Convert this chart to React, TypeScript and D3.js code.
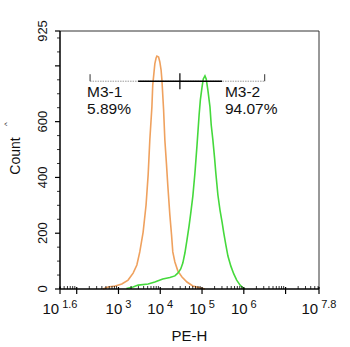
import React from "react";
import * as d3 from "d3";

// histogram data: [log10(PE-H), count]
const orangeLogX = [2.63, 2.75, 2.92, 3.08, 3.23, 3.35, 3.44, 3.51, 3.59, 3.66, 3.71, 3.75, 3.80, 3.82, 3.87, 3.90, 3.92, 3.96, 3.99, 4.02, 4.04, 4.08, 4.11, 4.15, 4.18, 4.23, 4.27, 4.30, 4.35, 4.42, 4.52, 4.64, 4.78, 4.95, 5.07];
const orangeCount = [0, 7, 11, 18, 32, 57, 86, 133, 204, 301, 409, 534, 653, 731, 807, 828, 835, 832, 814, 785, 749, 642, 534, 445, 373, 265, 194, 133, 97, 65, 43, 25, 11, 4, 0];

const greenLogX = [3.19, 3.35, 3.47, 3.71, 3.87, 4.06, 4.23, 4.35, 4.42, 4.49, 4.54, 4.59, 4.64, 4.69, 4.73, 4.78, 4.83, 4.88, 4.93, 4.96, 5.00, 5.03, 5.07, 5.10, 5.14, 5.19, 5.22, 5.26, 5.30, 5.33, 5.38, 5.43, 5.48, 5.52, 5.57, 5.62, 5.69, 5.76, 5.83, 5.91, 5.98, 6.03];
const greenCount = [2, 7, 14, 18, 25, 36, 41, 47, 57, 72, 93, 129, 176, 226, 272, 333, 416, 516, 624, 678, 724, 753, 764, 753, 713, 653, 588, 534, 470, 416, 337, 283, 240, 201, 158, 118, 82, 54, 32, 14, 4, 0];

const xLabelExps = ["1.6", "3", "4", "5", "6", "7.8"];
const xMajorExps = [1.6, 2, 3, 4, 5, 6, 7, 7.8];
const yLabels = [0, 200, 400, 600, 925];
const yMajor = [0, 200, 400, 600, 800, 925];

// markers (log10 positions)
const markerBounds = [2.32, 4.47, 6.5]; // M3-1 left, divider, M3-2 right
const markerSolid = [3.47, 5.48];
const markerCount = 745;
const markerNames = ["M3-1", "M3-2"];
const markerPct = ["5.89%", "94.07%"];

const W = 350, H = 347;
const L = 60, R = 319, T = 31, B = 289;
const font = "'Liberation Sans', Arial, Helvetica, sans-serif";

export default function App() {
  const x = d3.scaleLinear().domain([1.6, 7.8]).range([L, R]);
  const y = d3.scaleLinear().domain([0, 925]).range([B, T]);
  const line = d3.line<[number, number]>().x(d => x(d[0])).y(d => y(d[1]));
  const orange = orangeLogX.map((v, i) => [v, orangeCount[i]] as [number, number]);
  const green = greenLogX.map((v, i) => [v, greenCount[i]] as [number, number]);

  const minor: number[] = [];
  for (let e = 1; e <= 7; e++) {
    for (let k = 2; k <= 9; k++) {
      const v = e + Math.log10(k);
      if (v > 1.6 && v < 7.8) minor.push(v);
    }
  }
  const yMinor = d3.range(50, 925, 50).filter(v => !yMajor.includes(v));
  const my = y(markerCount);

  return (
    <svg width={W} height={H} style={{ position: "absolute", left: 0, top: 0, background: "#fff" }} fontFamily={font}>
      <rect x={0} y={0} width={W} height={H} fill="#fff" />
      {/* frame */}
      <line x1={L} x2={R} y1={T} y2={T} stroke="#333" strokeWidth={1} />
      <line x1={R} x2={R} y1={T} y2={B} stroke="#333" strokeWidth={1} />
      {/* curves */}
      <path d={line(orange) || ""} fill="none" stroke="#EFA15E" strokeWidth={1.6} />
      <path d={line(green) || ""} fill="none" stroke="#45D93C" strokeWidth={1.6} />
      {/* axes */}
      <line x1={L} x2={L} y1={T} y2={B} stroke="#000" strokeWidth={1.5} />
      <line x1={L} x2={R} y1={B} y2={B} stroke="#000" strokeWidth={1.5} />
      {minor.map((v, i) => (
        <line key={"mx" + i} x1={x(v)} x2={x(v)} y1={B - 3} y2={B} stroke="#000" strokeWidth={0.8} />
      ))}
      {xMajorExps.map((v, i) => (
        <line key={"Mx" + i} x1={x(v)} x2={x(v)} y1={B - 2} y2={B + 5} stroke="#000" strokeWidth={1.2} />
      ))}
      {yMinor.map((v, i) => (
        <line key={"my" + i} x1={L - 3} x2={L} y1={y(v)} y2={y(v)} stroke="#000" strokeWidth={0.8} />
      ))}
      {yMajor.map((v, i) => (
        <line key={"My" + i} x1={L - 5} x2={L} y1={y(v)} y2={y(v)} stroke="#000" strokeWidth={1.2} />
      ))}
      {/* x labels */}
      {xLabelExps.map((e, i) => (
        <text key={"xl" + i} x={x(parseFloat(e))} y={314} fontSize={15} textAnchor="middle" fill="#111">
          10
          <tspan dx={3} dy={-6} fontSize={11}>{e}</tspan>
        </text>
      ))}
      {/* y labels */}
      {yLabels.map((v, i) => (
        <text key={"yl" + i} transform={`translate(47,${y(v)}) rotate(-90)`} fontSize={13} textAnchor="middle" fill="#111">
          {v}
        </text>
      ))}
      <text transform={`translate(20,156) rotate(-90)`} fontSize={14} textAnchor="middle" fill="#111">Count</text>
      <text transform={`translate(9,124) rotate(-90)`} fontSize={8} textAnchor="middle" fill="#333">^</text>
      <text x={(L + R) / 2} y={341} fontSize={15} textAnchor="middle" fill="#111">PE-H</text>
      {/* markers */}
      <line x1={x(markerBounds[0])} x2={x(markerBounds[2])} y1={my} y2={my} stroke="#999" strokeWidth={1} strokeDasharray="1.5,1" />
      <line x1={x(markerSolid[0])} x2={x(markerSolid[1])} y1={my} y2={my} stroke="#000" strokeWidth={1.5} />
      <line x1={x(markerBounds[0])} x2={x(markerBounds[0])} y1={my - 7} y2={my} stroke="#333" strokeWidth={1} />
      <line x1={x(markerBounds[2])} x2={x(markerBounds[2])} y1={my - 7} y2={my} stroke="#333" strokeWidth={1} />
      <line x1={x(markerBounds[1])} x2={x(markerBounds[1])} y1={my - 8} y2={my + 8} stroke="#000" strokeWidth={1.2} />
      {markerNames.map((n, i) => (
        <g key={"mk" + i}>
          <text x={x(i === 0 ? markerBounds[0] : markerBounds[1]) + (i === 0 ? -3 : 45)} y={my + 16} fontSize={15.5} fill="#111">{n}</text>
          <text x={x(i === 0 ? markerBounds[0] : markerBounds[1]) + (i === 0 ? -3 : 45)} y={my + 33} fontSize={15.5} fill="#111">{markerPct[i]}</text>
        </g>
      ))}
    </svg>
  );
}
